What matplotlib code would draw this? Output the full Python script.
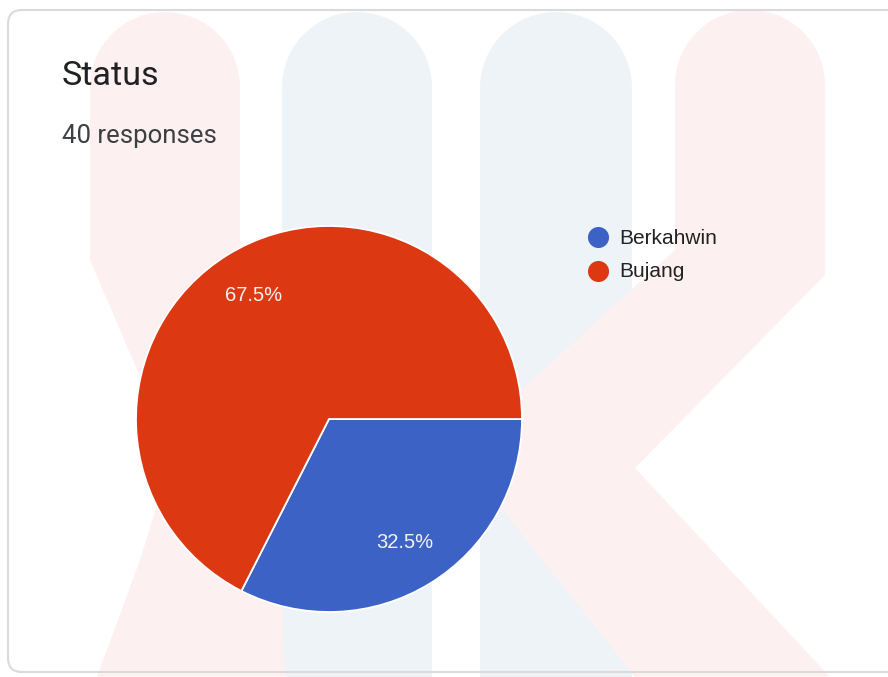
import numpy as np
import matplotlib.pyplot as plt
from matplotlib.patches import Polygon, FancyBboxPatch

# ---- data ----
title = 'Status'
subtitle = '40 responses'
categories = ['Berkahwin', 'Bujang']
values = [13, 27]            # 32.5% / 67.5% of 40
colors = ['#3C62C6', '#DC3912']

W, H = 888, 677
fig = plt.figure(figsize=(W / 100, H / 100), dpi=100)
fig.patch.set_facecolor('white')

# background layer in pixel coords (y down)
bg = fig.add_axes([0, 0, 1, 1], zorder=0)
bg.set_xlim(0, W)
bg.set_ylim(H, 0)
bg.axis('off')


def rounded_top(x0, x1, ytop):
    # semicircle cap over a bar from x0 to x1
    r = (x1 - x0) / 2
    cx, cy = x0 + r, ytop + r
    t = np.linspace(np.pi, 0, 40)
    return list(zip(cx + r * np.cos(t), cy - r * np.sin(t)))


pink = '#FDF0F0'
lblue = '#EEF3F7'

# watermark: two blue pillars
for x0, x1 in [(282, 432), (480, 632)]:
    pts = rounded_top(x0, x1, 12) + [(x1, H), (x0, H)]
    bg.add_patch(Polygon(pts, closed=True, fc=lblue, ec='none'))

# watermark: left pink ">" band
left_pts = rounded_top(90, 240, 12) + [(240, 260), (277, 465), (285, H),
                                       (97, H), (140, 560), (168, 470),
                                       (150, 400), (90, 260)]
bg.add_patch(Polygon(left_pts, closed=True, fc=pink, ec='none'))

# watermark: right pink "<" band
right_pts = rounded_top(675, 825, 10) + [(825, 275), (635, 468), (830, H),
                                         (635, H), (455, 450), (675, 250)]
bg.add_patch(Polygon(right_pts, closed=True, fc=pink, ec='none'))

# card border
bg.add_patch(FancyBboxPatch((8, 10), 920, 662,
                            boxstyle='round,pad=0,rounding_size=14',
                            fc='none', ec='#DADADA', lw=1.5))

# titles
bg.text(62, 85, title, fontsize=24.5, family='Roboto', color='#202124', va='baseline')
bg.text(62, 143, subtitle, fontsize=18.5, family='Roboto', color='#3C4043', va='baseline')

# legend
for i, (lab, c) in enumerate(zip(categories, colors)):
    yc = 237 + i * 33.5
    bg.scatter([598], [yc], s=230, color=c, marker='o', linewidths=0)
    bg.text(619, yc + 6.5, lab, fontsize=15, family='Liberation Sans',
            color='#222222', va='baseline')

# pie
ax = fig.add_axes([136 / W, (H - 612) / H, 386 / W, 386 / H], zorder=1)
wedges, texts, autotexts = ax.pie(
    values, colors=colors, startangle=0, counterclock=False,
    autopct='%1.1f%%', pctdistance=0.75,
    wedgeprops=dict(edgecolor='white', linewidth=1.3),
    textprops=dict(color='#F2F2F2', fontsize=14.5, family='Liberation Sans'))
ax.set_xlim(-1, 1)
ax.set_ylim(-1, 1)
ax.set_aspect('equal')

plt.savefig('out.png', dpi=100)
